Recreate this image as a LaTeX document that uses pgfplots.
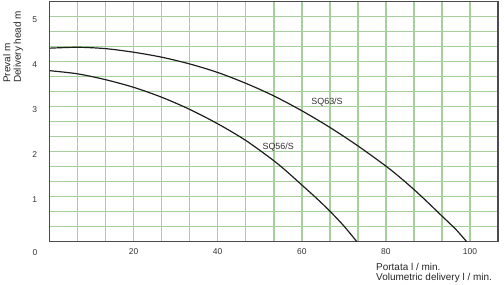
\documentclass[border=0pt]{standalone}
\usepackage{pgfplots}
\pgfplotsset{compat=1.18}
\usepackage{fontspec}
\setmainfont{Liberation Sans}
\definecolor{gridgreen}{RGB}{165,208,155}
\definecolor{framegray}{RGB}{75,75,75}
\definecolor{curvecol}{RGB}{30,30,30}
\begin{document}
\begin{tikzpicture}
\begin{axis}[
  scale only axis,
  width=448.5bp, height=240bp,
  xmin=0, xmax=106.6667, ymin=0, ymax=5.33333,
  xtick={20,40,60,80,100},
  minor xtick={6.6667,13.3333,26.6667,33.3333,46.6667,53.3333,66.6667,73.3333,86.6667,93.3333},
  ytick={1,2,3,4,5},
  minor ytick={0.33333,0.66667,1.33333,1.66667,2.33333,2.66667,3.33333,3.66667,4.33333,4.66667},
  major tick length=0pt, minor tick length=0pt,
  grid=both,
  major grid style={gridgreen, line width=1.5pt},
  minor grid style={gridgreen, line width=1.5pt},
  axis line style={framegray, line width=1.4pt},
  /pgf/number format/assume math mode=true,
  tick label style={font=\fontsize{8.5}{10}\selectfont, text=black!80},
  xticklabel style={yshift=-3pt},
  yticklabel style={xshift=-9pt, yshift=-3pt},
  clip=false,
]
\addplot[curvecol, line width=1.2pt, smooth, tension=0.5] coordinates {
(0,4.30) (6.67,4.32) (13.33,4.29) (20,4.21) (26.67,4.10) (33.33,3.95) (40,3.76) (46.67,3.52) (53.33,3.24) (60,2.91) (66.67,2.54) (73.33,2.13) (80,1.68) (83.33,1.43) (86.67,1.16) (90,0.87) (93.33,0.57) (96.67,0.27) (99.2,0)
};
\addplot[curvecol, line width=1.2pt, smooth, tension=0.5] coordinates {
(0,3.80) (6.67,3.73) (13.33,3.60) (20,3.43) (26.67,3.21) (33.33,2.94) (40,2.62) (46.67,2.25) (53.33,1.80) (56.67,1.54) (60,1.26) (63.33,0.98) (66.67,0.68) (70,0.35) (73.1,0)
};
\node[font=\fontsize{9}{10}\selectfont, text=black!80] at (axis cs:66,3.11) {SQ63/S};
\node[font=\fontsize{9}{10}\selectfont, text=black!80] at (axis cs:54.4,2.11) {SQ56/S};
\node[font=\fontsize{8.5}{10}\selectfont, text=black!80] at (rel axis cs:-0.0323,-0.047) {0};
\node[rotate=90, anchor=north west, align=left, inner sep=0pt,
      font=\fontsize{10}{10.5}\selectfont, text=black!85] at (rel axis cs:-0.1037,0.661) {Preval m\\Delivery head m};
\node[anchor=north west, align=left, inner sep=0pt,
      font=\fontsize{10}{10.5}\selectfont, text=black!85] at (rel axis cs:0.728,-0.0888) {Portata l / min.\\Volumetric delivery l / min.};
\coordinate (bl) at (rel axis cs:-0.1104,-0.1804);
\coordinate (tr) at (rel axis cs:1.0134,1.007);
\end{axis}
\pgfresetboundingbox
\path[use as bounding box] (bl) rectangle (tr);
\end{tikzpicture}
\end{document}
